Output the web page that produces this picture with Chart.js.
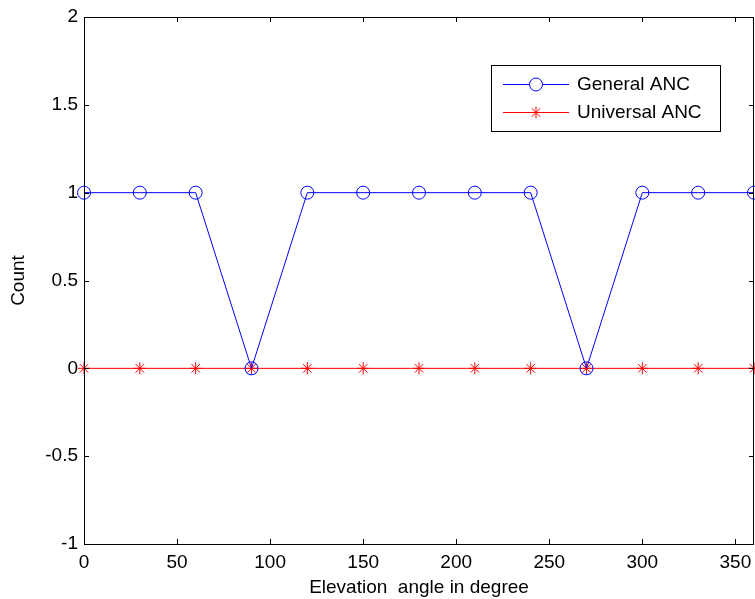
<!DOCTYPE html>
<html><head><meta charset="utf-8">
<script src="https://cdn.jsdelivr.net/npm/chart.js@4/dist/chart.umd.min.js"></script>
<style>html,body{margin:0;padding:0;background:#fff;}#wrap{width:755px;height:599px;}</style>
</head><body><div id="wrap"><canvas id="c" width="755" height="599"></canvas></div>
<script>
const angles = [0,30,60,90,120,150,180,210,240,270,300,330,360];
const generalANC = [1,1,1,0,1,1,1,1,1,0,1,1,1];
const universalANC = [0,0,0,0,0,0,0,0,0,0,0,0,0];
const seriesNames = ['General ANC','Universal ANC'];
const xTitle = 'Elevation  angle in degree';
const yTitle = 'Count';

const FONT = '"Liberation Sans", Arial, sans-serif';
const FS = 19;

const boxPlugin = {
  id: 'box',
  afterDatasetsDraw(chart) {
    const ctx = chart.ctx, a = chart.chartArea;
    const xs = chart.scales.x, ys = chart.scales.y;
    ctx.save();
    ctx.strokeStyle = '#000';
    ctx.lineWidth = 1;
    ctx.beginPath();
    ctx.rect(Math.round(a.left)+0.5, Math.round(a.top)+0.5, Math.round(a.right-a.left)-1, Math.round(a.bottom-a.top));
    ctx.stroke();
    ctx.beginPath();
    const L = 5;
    xs.ticks.forEach(t => {
      const px = Math.round(xs.getPixelForValue(t.value))+0.5;
      ctx.moveTo(px, a.bottom); ctx.lineTo(px, a.bottom-L);
      ctx.moveTo(px, a.top); ctx.lineTo(px, a.top+L);
    });
    ys.ticks.forEach(t => {
      const py = Math.round(ys.getPixelForValue(t.value))+0.5;
      ctx.moveTo(a.left, py); ctx.lineTo(a.left+L, py);
      ctx.moveTo(a.right, py); ctx.lineTo(a.right-L, py);
    });
    ctx.stroke();
    // legend
    const bx = 491.5, by = 65.5, bw = 229, bh = 66;
    ctx.fillStyle = '#fff';
    ctx.fillRect(bx, by, bw, bh);
    ctx.strokeRect(bx, by, bw, bh);
    const rows = [84, 112];
    chart.data.datasets.forEach((ds, i) => {
      const y = rows[i] + 0.5;
      ctx.strokeStyle = ds.borderColor;
      ctx.lineWidth = 1;
      ctx.beginPath(); ctx.moveTo(503, y); ctx.lineTo(569, y); ctx.stroke();
      Chart.helpers.drawPoint(ctx, {pointStyle: ds.pointStyle, radius: ds.pointRadius, borderWidth: 1}, 536, y);
      ctx.fillStyle = '#000';
      ctx.font = FS + 'px ' + FONT;
      ctx.textBaseline = 'middle';
      ctx.textAlign = 'left';
      ctx.fillText(seriesNames[i], 577, y);
    });
    ctx.restore();
  }
};

new Chart(document.getElementById('c'), {
  type: 'scatter',
  data: {
    datasets: [
      { label: seriesNames[0], data: angles.map((x,i)=>({x, y: generalANC[i]})), showLine: true,
        borderColor: '#0000ff', backgroundColor: 'rgba(0,0,0,0)', borderWidth: 1,
        pointStyle: 'circle', pointRadius: 6.5, pointBorderWidth: 1, pointBorderColor: '#0000ff', clip: false },
      { label: seriesNames[1], data: angles.map((x,i)=>({x, y: universalANC[i]})), showLine: true,
        borderColor: '#ff0000', backgroundColor: 'rgba(0,0,0,0)', borderWidth: 1,
        pointStyle: 'star', pointRadius: 6, pointBorderWidth: 1, pointBorderColor: '#ff0000', clip: false }
    ]
  },
  options: {
    responsive: false,
    animation: false,
    layout: { autoPadding: false, padding: { left: 0, top: 17, right: 1, bottom: 0 } },
    plugins: { legend: { display: false }, tooltip: { enabled: false } },
    scales: {
      x: {
        type: 'linear', min: 0, max: 360,
        grid: { display: false, drawTicks: false }, border: { display: false },
        ticks: { stepSize: 50, includeBounds: false, color: '#000', padding: 7, maxRotation: 0, font: { family: FONT, size: FS } },
        title: { display: true, text: xTitle, color: '#000', font: { family: FONT, size: FS }, padding: { top: 0, bottom: 0 } },
        afterFit(s) { s.height = 55; s.paddingLeft = 0; s.paddingRight = 0; }
      },
      y: {
        type: 'linear', min: -1, max: 2,
        grid: { display: false, drawTicks: false }, border: { display: false },
        ticks: { stepSize: 0.5, color: '#000', padding: 6, font: { family: FONT, size: FS },
                 callback: v => String(v) },
        title: { display: true, text: yTitle, color: '#000', font: { family: FONT, size: FS }, padding: { top: 7, bottom: 0 } },
        afterFit(s) { s.width = 84; s.paddingTop = 0; s.paddingBottom = 0; }
      }
    }
  },
  plugins: [boxPlugin]
});
</script></body></html>
